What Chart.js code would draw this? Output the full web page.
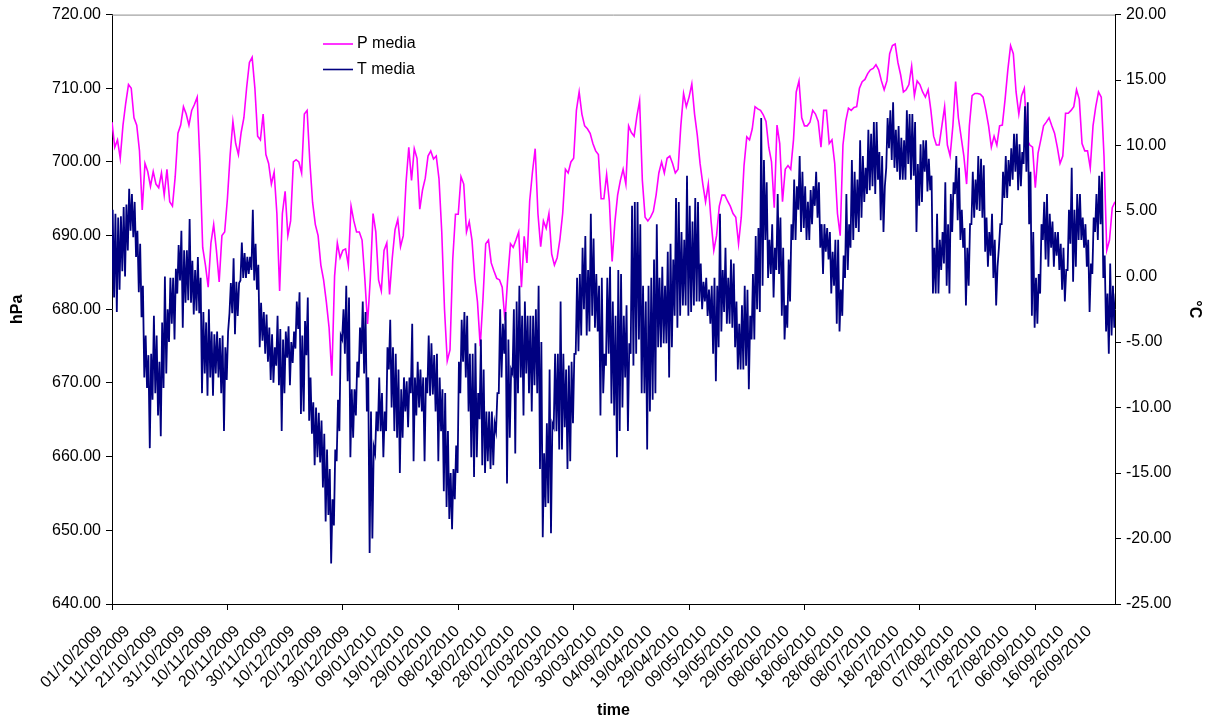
<!DOCTYPE html>
<html>
<head>
<meta charset="utf-8">
<script src="https://cdn.jsdelivr.net/npm/chart.js@4.4.1/dist/chart.umd.min.js"></script>
<style>
  html, body { margin: 0; padding: 0; background: #fff; }
  canvas { display: block; }
</style>
</head>
<body>
<canvas id="meteo" width="1206" height="724"></canvas>
<script>
// axis labels, one every 10 days starting 01/10/2009
const dateLabels = [
  '01/10/2009', '11/10/2009', '21/10/2009', '31/10/2009', '10/11/2009', '20/11/2009',
  '30/11/2009', '10/12/2009', '20/12/2009', '30/12/2009', '09/01/2010', '19/01/2010',
  '29/01/2010', '08/02/2010', '18/02/2010', '28/02/2010', '10/03/2010', '20/03/2010',
  '30/03/2010', '04/09/2010', '19/04/2010', '29/04/2010', '09/05/2010', '19/05/2010',
  '29/05/2010', '08/06/2010', '18/06/2010', '28/06/2010', '08/07/2010', '18/07/2010',
  '28/07/2010', '07/08/2010', '17/08/2010', '27/08/2010', '06/09/2010', '16/09/2010',
  '26/09/2010'
];

// daily mean pressure, hPa (day 0 = 01/10/2009)
const pDaily = [
  705.4, 702, 703, 700.5, 705, 708, 710.5, 710, 706, 705,
  701.5, 693.5, 699.8, 698.7, 696.7, 698.7, 697, 696.5, 698.5, 695.5,
  699, 694.6, 694, 698, 703.9, 705, 707.5, 706.5, 705, 707,
  707.8, 708.8, 700, 688.4, 686, 683, 689, 691.5, 688, 683.7,
  690, 690.5, 695, 701, 705.5, 702.5, 701, 704, 706, 710.1,
  713.5, 714.2, 710, 703.5, 703, 706.5, 701, 699.8, 697, 698.6,
  693, 682.5, 693, 696, 690, 692, 700, 700.3, 700, 698.5,
  706.5, 707, 700, 694.5, 691.5, 690, 686, 684, 681, 677.5,
  671, 684.5, 689, 687, 688, 688.2, 686, 694, 692, 690.5,
  690.5, 689.4, 684.2, 678, 684.2, 693, 690.5, 684, 682.5, 688,
  689, 682, 687, 690.8, 692.2, 688.5, 690, 697.2, 702, 697.5,
  701.8, 700.5, 693.6, 696.2, 697.8, 700.8, 701.5, 700.4, 700.8, 697.7,
  690.5, 680, 673, 674.5, 686.8, 692.9, 692.9, 698, 697, 690.5,
  691.9, 689.4, 684.2, 681, 675, 681.4, 688.9, 689.4, 686.3, 685.2,
  684.2, 684, 683, 678.5, 684.2, 688.9, 688.4, 689.4, 690.5, 683,
  689.9, 686.3, 694.7, 698.6, 701.8, 693, 688.5, 692, 691, 693,
  687.5, 686, 687, 689.5, 693, 699, 698.5, 700, 700.5, 707,
  709.5, 706.5, 704.9, 704.5, 703.9, 702.5, 701.5, 701, 695, 695,
  698.3, 694.6, 686.5, 691.8, 695.5, 697.5, 699, 697, 704.9, 704,
  703.5, 706.2, 708.3, 697.5, 692.5, 692, 692.5, 693.3, 695.5, 698.5,
  700, 698.5, 700.5, 700.8, 699.8, 698.5, 699, 704.9, 709.3, 707.5,
  708.8, 710.6, 706.5, 703.6, 699.8, 697, 694.6, 697, 692, 688,
  690, 694, 695.5, 695.5, 694.7, 694, 693, 692.5, 688.9, 692.5,
  699.5, 703.4, 703, 704.5, 707.5, 707.2, 707, 706.4, 705.5, 702,
  700, 693.8, 705, 702.5, 694.6, 699, 699.5, 699, 703, 709.5,
  711, 706, 704.9, 704.9, 705.4, 707, 706.5, 705.5, 702, 707,
  707, 702.5, 703, 699.8, 693, 690, 702.3, 705.5, 707.3, 707,
  707.4, 707.5, 710, 710.9, 711.2, 712, 712.5, 712.7, 713.2, 712.5,
  711, 709.8, 711, 714.7, 715.8, 716, 713.5, 711.8, 709.5, 709.8,
  710.5, 713, 709, 711, 710.5, 709.5, 708.8, 709.8, 707, 703.5,
  702.3, 702.3, 704.9, 707.5, 702.3, 700.8, 704.9, 710.9, 706, 703.4,
  700.8, 697, 704.9, 709, 709.3, 709.3, 709.2, 708.8, 707, 704.9,
  702, 703.5, 702.3, 704.9, 705, 708.5, 712.5, 715.8, 714.7, 709.5,
  706.5, 709, 710, 703, 702.3, 702, 696.5, 701.2, 703, 704.9,
  705.4, 706, 704.9, 703.9, 702, 699.8, 700.8, 706.6, 706.6, 707,
  707.5, 709.8, 708.5, 702.5, 701.5, 701.5, 699.2, 704.9, 707.5, 709.5,
  708.8, 700.8, 688, 689.4, 693.8, 694.6
];

// daily minimum temperature, °C
const tMin = [
  -1.5, -1.6, -2.7, -1, 0.4, 0, 2, 3.5, 3, 1.5,
  -1.2, -3.1, -7.7, -8.5, -13.1, -9.4, -8.9, -10.6, -12.2, -8.5,
  -7.4, -5, -3.6, -4.8, -1.3, -0.3, -3.9, -2, -1.8, -2,
  -2.9, -2.6, -2.8, -8.9, -7.4, -9.1, -7.7, -9.1, -7.4, -7.7,
  -8.9, -11.8, -7.9, -2.8, -2.8, -4.4, -3, -0.3, -0.1, -0.1,
  0.2, 0.5, -0.3, -1, -5.4, -4.9, -5.9, -6.5, -7.9, -8.1,
  -6.8, -8.3, -11.8, -8.9, -6.2, -8.3, -6.6, -5.5, -4, -10.5,
  -10.3, -6, -11, -12, -14.4, -13.8, -14.2, -16.1, -18.7, -18.2,
  -21.9, -19, -14.1, -11.8, -4.8, -5.9, -8, -13.8, -12.3, -10.6,
  -7.7, -5.9, -7.4, -10.3, -21.1, -20, -13.5, -11.8, -11.8, -13.8,
  -11.8, -7.1, -10, -11.8, -12.3, -15, -12.3, -10.3, -11.5, -8.9,
  -14.1, -10.6, -10, -10.3, -14.1, -8.9, -9.1, -9, -10.3, -14.1,
  -11.8, -16.4, -17.6, -18.5, -19.3, -17, -15, -8.9, -6.5, -7.7,
  -10.3, -13.8, -15.3, -13.8, -10.9, -14.4, -15, -14.1, -14.7, -14.4,
  -11.8, -8.9, -7.7, -5.9, -15.8, -12.3, -7.4, -13.5, -8.9, -7.7,
  -10.6, -7.4, -8.9, -10.3, -8.3, -8.9, -14.7, -19.9, -17.6, -17.3,
  -19.6, -11.5, -11.8, -13.2, -13.2, -11.5, -14.7, -14.1, -11.2, -5.9,
  -5.7, -4.5, -2.5, -4.5, -4.2, -3, -3.9, -4.2, -10.6, -8.9,
  -6.8, -5.9, -9.7, -10.6, -13.8, -11.8, -10, -7.7, -11.8, -5.9,
  -6.8, -5.9, -4.8, -8.9, -8.9, -13.2, -10.3, -9.4, -8.9, -5.4,
  -5.4, -5.1, -5.1, -7.7, -5.4, -3, -3.9, -3, -2.2, -2.2,
  -3, -2.7, -2.2, -1.9, -1.9, -2.5, -1.9, -3, -3.6, -5.9,
  -8, -5.4, -4.2, -2.7, -3.6, -3.6, -3.9, -5.4, -7.1, -7.1,
  -7.1, -6.8, -8.6, -4.8, -4.8, -2.5, -2.7, -0.7, 2.8, -0.1,
  0.2, -1.6, 0.5, 0.2, -3, -4.8, -3.9, -1.9, 2.8, 2.8,
  5.1, 3.4, 3.7, 2.8, 2.8, 4, 5.4, 4.5, 2.2, 0.2,
  1.9, 1.3, -1.3, -0.7, -3.6, -4.2, -3, -0.1, 0.5, 2.2,
  2.8, 3.7, 3.4, 4.5, 5.7, 6.3, 6.6, 6.9, 6.3, 7.4,
  4.3, 3.4, 8.3, 9.8, 8.9, 8.3, 8, 7.4, 7.4, 7.4,
  8.6, 7.4, 7.7, 3.4, 5.4, 5.7, 8, 6.5, 6.6, -1.3,
  -1.3, -1.3, 0.5, 1, -0.7, -1.3, 3.4, 6.3, 4.3, 2.8,
  2.2, -2.2, -0.7, 4, 4.5, 5.1, 5, 4.5, 1.9, 0.75,
  1.6, -0.1, -2.2, 2.2, 4, 6, 6, 6.9, 7.4, 8,
  6.6, 6.9, 8.6, 8, 4, -3, -3.9, -3.6, -1.3, 2.8,
  1.3, 0.75, 2.2, 0.75, 1.6, 0.5, -1, -1.9, 0.5, 2.5,
  -0.4, 0.75, 2.8, 2.8, 2.2, 0.75, -2.7, 0.2, 3.4, 2.8,
  4, -0.1, -4.2, -5.9, -4.5, -3.9
];

// daily maximum temperature, °C
const tMax = [
  5.1, 4.8, 4.5, 4.6, 5.3, 5.5, 6.7, 6.3, 5.7, 3.5,
  2.5, -0.7, -4.5, -6, -5.9, -3, -4.5, -6.5, -3.5, 0,
  -2.5, -0.1, -0.1, 0.6, 2.4, 3.5, 2, 2, 4.4, 1.2,
  0.5, 1.5, -0.1, -2.7, -3.5, -2.5, -4.2, -4.4, -4.2, -4.7,
  -4.5, -5.4, -4.2, -0.5, 1.4, -0.4, -0.5, 2.6, 1.8, 1.5,
  1.5, 5.1, 2.5, 0.9, -2, -2.7, -2.9, -3.9, -4.4, -5.4,
  -3, -4, -4.8, -4.2, -3.8, -5, -4.2, -1.9, -1.2, -4.5,
  -3.4, -1.6, -7.7, -9.6, -10, -10.4, -11, -12, -13.2, -14.7,
  -17, -13.2, -9.4, -4.5, -2.5, -0.7, -1.6, -8.6, -8.6, -6.5,
  -3.9, -1.9, -2.7, -7.7, -10.3, -13, -10.3, -7.7, -8.9, -10.3,
  -5.4, -3.3, -5.4, -5.9, -7.1, -8.6, -7.7, -8, -7.7, -3.6,
  -7.7, -6.5, -7.1, -7.7, -7.7, -4.5, -5.1, -6, -5.9, -7.7,
  -8.6, -8.9, -11.8, -15, -14.7, -12.9, -6.5, -3.3, -2.7, -3,
  -5.9, -5.9, -5.1, -8.9, -4.8, -7.1, -10.3, -10.3, -10.3, -11.2,
  -8.9, -2.5, -3.6, -2.7, -4.8, -7.1, -2.5, -1.9, -0.7, -3,
  -1.9, -3, -3, -3, -2.5, -0.7, -5, -13.5, -11.2, -7.1,
  -11.2, -5.9, -5.9, -1.9, -5.9, -7.1, -6.8, -6.5, -5.9, -0.1,
  0.2, 2.2, 3.1, 0.5, 4.8, 2.9, 0.2, -0.7, -0.1, -5.9,
  -0.1, 0.75, -1.9, -3, 0.5, 0.2, -3, -2.2, -5.1, 5.4,
  5.7, 5.7, 4, -0.7, -1.9, -0.7, -0.1, 1.3, 4, -0.1,
  0.75, -0.7, 1.9, 2.5, 1.3, 6, 5.7, 3.4, 2.8, 7.7,
  5.4, 4.2, 6, 5.7, 1, -0.4, -0.1, -1, -0.7, -0.1,
  -0.7, 4.8, 0.5, 2.2, -0.1, 1.3, 1, -1.9, -3.6, -2.2,
  -0.7, -1, -3, 0.2, 3.1, 3.7, 12.1, 8.9, 7.2, 2.8,
  4, 2.2, 6.3, 4.5, 2.2, -2.2, 1.3, 4, 7.4, 6.9,
  9.2, 8, 6.9, 5.7, 6.6, 6.9, 8, 7.2, 4, 4,
  3.7, 3.4, 1.9, 2.8, 2.8, -1, 1.6, 6.3, 4, 8.9,
  8, 7.4, 10.4, 9.2, 8.3, 11.2, 10.9, 11.8, 11.8, 9.5,
  9.2, 6.9, 12.1, 12.7, 13.3, 11.2, 11.5, 10.6, 10.4, 12.7,
  12.4, 12.4, 11.8, 8.6, 10.1, 10.4, 10.4, 9, 7.7, 2.2,
  4.8, 2.8, 3.4, 7.2, 4, 6.3, 7.2, 9.2, 8.3, 5.1,
  3.7, 2.2, 4, 8, 7.4, 9.2, 9, 8.5, 4.5, 3.4,
  4.8, 2.8, 0.75, 4, 8, 9.2, 8.9, 9.8, 10.9, 10.9,
  10.1, 9.5, 13, 13.3, 8, 3.4, -0.1, 0.2, 4, 5.7,
  6.3, 4.8, 4.2, 3.4, 3.4, 2.5, 2.2, 0.5, 5.1, 8.3,
  5.1, 6.3, 6.3, 4.5, 4, 2.8, 1, 4.5, 6.3, 7.7,
  8, 1.6, -1.3, 1, -0.7, -1.3
];

const LABEL_EVERY = 10;   // days between date labels
const MARK_EVERY = 42;    // days between tick marks on the time axis
const LAST_DAY = pDaily.length - 1;

Chart.defaults.font.family = "'Liberation Sans', Arial, sans-serif";
Chart.defaults.font.size = 16;
Chart.defaults.color = '#000';

// pressure: one point per day
const pPoints = pDaily.map((v, d) => ({ x: d, y: v }));

// temperature: night minimum then afternoon maximum for every day
const tPoints = [];
tMin.forEach((lo, d) => {
  tPoints.push({ x: d - 0.25, y: lo });
  tPoints.push({ x: d + 0.25, y: tMax[d] });
});

// legend inside the plot plus the grey frame line on top
const frameAndLegend = {
  id: 'frameAndLegend',
  afterDatasetsDraw(chart) {
    const { ctx, chartArea } = chart;
    ctx.save();
    ctx.strokeStyle = '#8c8c8c';
    ctx.lineWidth = 1;
    ctx.beginPath();
    ctx.moveTo(chartArea.left, chartArea.top + 0.5);
    ctx.lineTo(chartArea.right, chartArea.top + 0.5);
    ctx.stroke();

    const rows = [chart.data.datasets[0], chart.data.datasets[1]];
    ctx.font = "16px 'Liberation Sans', Arial, sans-serif";
    ctx.textBaseline = 'middle';
    ctx.fillStyle = '#000';
    rows.forEach((ds, i) => {
      const y = 44 + i * 25.5;
      ctx.strokeStyle = ds.borderColor;
      ctx.lineWidth = 1.6;
      ctx.beginPath();
      ctx.moveTo(323, y);
      ctx.lineTo(353, y);
      ctx.stroke();
      ctx.fillText(ds.label, 357, y);
    });
    ctx.restore();
  }
};

new Chart(document.getElementById('meteo'), {
  type: 'line',
  data: {
    datasets: [
      {
        label: 'P media',
        data: pPoints,
        yAxisID: 'yP',
        borderColor: '#ff00ff',
        borderWidth: 1.6,
        order: 1
      },
      {
        label: 'T media',
        data: tPoints,
        yAxisID: 'yT',
        borderColor: '#000080',
        borderWidth: 1.8,
        order: 0
      }
    ]
  },
  options: {
    responsive: false,
    animation: false,
    layout: { padding: { top: 12 } },
    elements: {
      point: { radius: 0 },
      line: { tension: 0, fill: false }
    },
    plugins: {
      legend: { display: false },
      tooltip: { enabled: false }
    },
    scales: {
      x: {
        type: 'linear',
        min: 0,
        max: LAST_DAY,
        afterBuildTicks(scale) {
          const vals = new Set();
          for (let d = 0; d <= LAST_DAY; d += LABEL_EVERY) vals.add(d);
          for (let d = 0; d <= LAST_DAY; d += MARK_EVERY) vals.add(d);
          scale.ticks = [...vals].sort((a, b) => a - b).map(v => ({ value: v }));
        },
        afterFit(scale) { scale.height = 120; },
        grid: {
          drawOnChartArea: false,
          tickLength: 6,
          tickColor: ctx => (ctx.tick && ctx.tick.value % MARK_EVERY === 0) ? '#000' : 'rgba(0,0,0,0)'
        },
        border: { color: '#000', width: 1 },
        ticks: {
          autoSkip: false,
          minRotation: 45,
          maxRotation: 45,
          padding: 12,
          labelOffset: -12,
          callback: v => (v % LABEL_EVERY === 0) ? dateLabels[v / LABEL_EVERY] : ''
        },
        title: {
          display: true,
          text: 'time',
          font: { size: 16, weight: 'bold' },
          padding: { top: 0, bottom: 4 }
        }
      },
      yP: {
        position: 'left',
        min: 640,
        max: 720,
        afterFit(scale) { scale.width = 112; },
        grid: { drawOnChartArea: false, tickLength: 6, tickColor: '#000' },
        border: { color: '#000', width: 1 },
        ticks: { stepSize: 10, padding: 5, callback: v => v.toFixed(2) },
        title: {
          display: true,
          text: 'hPa',
          font: { size: 16, weight: 'bold' },
          padding: { top: 8, bottom: 0 }
        }
      },
      yT: {
        position: 'right',
        min: -25,
        max: 20,
        afterFit(scale) { scale.width = 91; },
        grid: { drawOnChartArea: false, tickLength: 6, tickColor: '#000' },
        border: { color: '#000', width: 1 },
        ticks: { stepSize: 5, padding: 5, callback: v => v.toFixed(2) },
        title: {
          display: true,
          text: '°C',
          font: { size: 16, weight: 'bold' },
          padding: { top: 2, bottom: 0 }
        }
      }
    }
  },
  plugins: [frameAndLegend]
});
</script>
</body>
</html>
